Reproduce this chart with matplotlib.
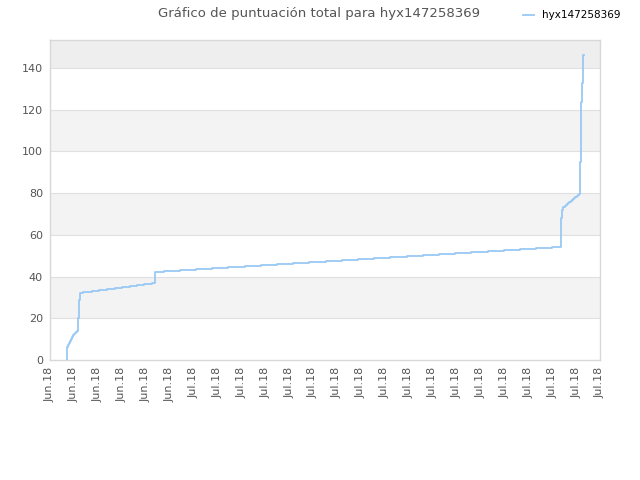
import matplotlib
matplotlib.use('Agg')
import matplotlib.pyplot as plt

# x positions in tick units (0 .. 23), values = cumulative score
x_vals = [0.70, 0.70, 0.74, 0.76, 0.78, 0.80, 0.82, 0.84, 0.86, 0.88, 0.90, 0.92, 0.94,
          0.96, 0.98, 1.00, 1.02, 1.04, 1.06, 1.08, 1.10, 1.12, 1.14, 1.16, 1.17,
          1.19, 1.21, 1.23, 1.25,
          1.28, 1.39, 1.74, 2.06, 2.37, 2.72, 3.00, 3.35, 3.65, 3.94, 4.25,
          4.39, 4.77, 5.44, 6.11, 6.77, 7.44, 8.15, 8.82, 9.49, 10.16, 10.83, 11.54,
          12.21, 12.88, 13.55, 14.22, 14.93, 15.60, 16.27, 16.94, 17.61, 18.32,
          18.99, 19.65, 20.32, 20.99,
          21.33, 21.36, 21.38, 21.41, 21.47, 21.52, 21.57, 21.62, 21.67, 21.72,
          21.77, 21.82, 21.87, 21.92, 21.97, 22.02, 22.07, 22.12, 22.16,
          22.18, 22.21, 22.25, 22.31, 22.33]
scores = [0.0, 6.1, 6.1, 7.2, 7.7, 8.2, 8.7, 9.2, 9.6, 10.0, 10.4, 10.8, 11.2,
          11.5, 11.8, 12.1, 12.4, 12.7, 13.0, 13.3, 13.5, 13.8, 14.0, 14.2, 14.4,
          20.0, 25.0, 29.0, 32.3,
          32.3, 32.7, 33.2, 33.6, 34.1, 34.5, 35.0, 35.4, 35.9, 36.3, 36.8,
          42.2, 42.7, 43.2, 43.6, 44.1, 44.6, 45.1, 45.6, 46.0, 46.5, 47.0, 47.5,
          48.0, 48.4, 48.9, 49.4, 49.9, 50.4, 50.8, 51.3, 51.8, 52.3,
          52.8, 53.2, 53.7, 54.2,
          54.2, 60.7, 68.0, 71.9, 73.5, 74.0, 74.5, 75.0, 75.5, 75.9,
          76.4, 76.8, 77.3, 77.7, 78.2, 78.6, 79.1, 79.5, 79.9,
          95.0, 123.8, 133.0, 146.2, 146.2]

tick_labels = ['Jun.18'] * 6 + ['Jul.18'] * 18
y_ticks = [0, 20, 40, 60, 80, 100, 120, 140]

fig = plt.figure(figsize=(6.4, 4.8), dpi=100)
ax = fig.add_axes([50 / 640, 1 - 360 / 480, 550 / 640, 320 / 480])

ax.set_xlim(0, 23)
ax.set_ylim(0, 153.4)

# alternating background bands
for lo in [20, 60, 100]:
    ax.axhspan(lo, lo + 20, color='#f3f3f3', zorder=0, lw=0)
ax.axhspan(140, 153.4, color='#eeeeee', zorder=0, lw=0)
for yv in y_ticks[1:]:
    ax.axhline(yv, color='#e0e0e0', lw=0.8, zorder=1)

ax.plot(x_vals, scores, drawstyle='steps-post', color='#99c8f5', lw=1.3,
        zorder=3, label='hyx147258369')

ax.set_xticks(range(len(tick_labels)))
ax.set_xticklabels(tick_labels, rotation=90, fontsize=8, color='#555555')
ax.set_yticks(y_ticks)
ax.set_yticklabels([str(v) for v in y_ticks], fontsize=8, color='#555555')
ax.tick_params(length=0, pad=5)

for s in ax.spines.values():
    s.set_color('#d8d8d8')
    s.set_linewidth(1)

fig.text(0.498, 0.972, 'Gráfico de puntuación total para hyx147258369',
         ha='center', va='center', fontsize=9.5, color='#555555')
fig.legend(loc='center left', bbox_to_anchor=(0.803, 0.968), frameon=False,
           fontsize=7.5, handlelength=1.0, handletextpad=0.8)

fig.savefig('out.png', dpi=100)
